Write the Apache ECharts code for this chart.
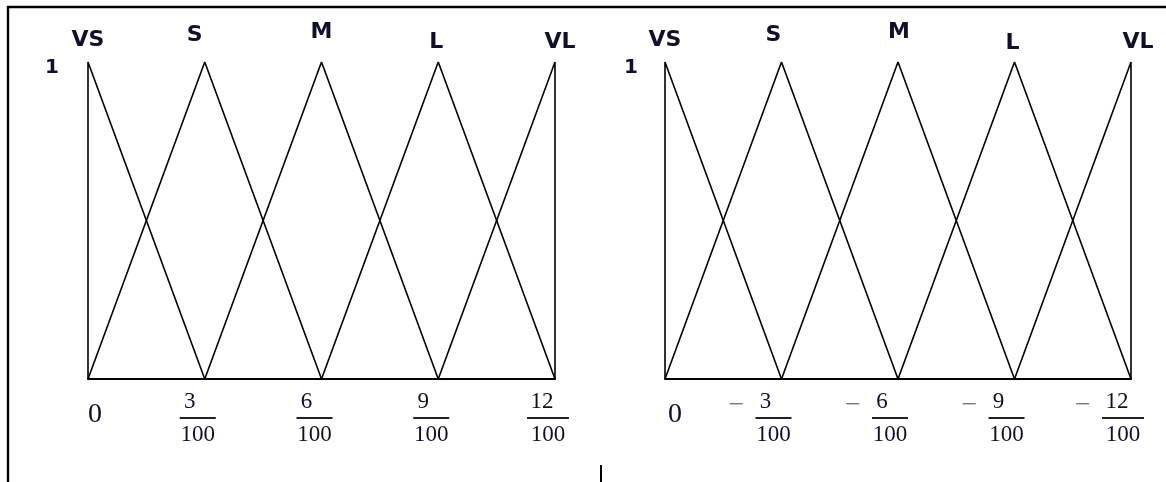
<!DOCTYPE html>
<html><head><meta charset="utf-8">
<script src="https://cdn.jsdelivr.net/npm/echarts@6/dist/echarts.min.js"></script>
<style>html,body{margin:0;padding:0;background:#fff}#c{width:1166px;height:482px}</style>
</head><body><div id="c"></div>
<script>
// ---- data ----
const setNames = ['VS', 'S', 'M', 'L', 'VL'];
const denominator = 100;
const tickNumerators = [0, 3, 6, 9, 12];           // x ticks: n / 100
const vsPoints = [[0, 0], [0, 1], [3, 0]];          // [numerator, membership]
const sPoints  = [[0, 0], [3, 1], [6, 0]];
const mPoints  = [[3, 0], [6, 1], [9, 0]];
const lPoints  = [[6, 0], [9, 1], [12, 0]];
const vlPoints = [[9, 0], [12, 1], [12, 0]];
const setPoints = [vsPoints, sPoints, mPoints, lPoints, vlPoints];
const yLabelValue = 1;

// ---- styles ----
const labelOffsets = [
  [[0, -22], [-10, -27], [0, -30], [-2, -20], [5, -20]],
  [[0, -22], [-8, -27], [1, -30], [-2, -19], [7, -20]]
];
const ink = '#10102a';
const serif = 'Liberation Serif';
const sans = 'DejaVu Sans';

const rich = {
  n1: { width: 20, fontFamily: serif, fontSize: 23, color: ink, lineHeight: 28 },
  n2: { width: 30, fontFamily: serif, fontSize: 23, color: ink, lineHeight: 28 },
  ns1: { width: 16 },
  ns2: { width: 12 },
  b1: { width: 36, height: 2, lineHeight: 4, backgroundColor: '#222', fontSize: 1 },
  b2: { width: 42, height: 2, lineHeight: 4, backgroundColor: '#222', fontSize: 1 },
  d1: { width: 36, fontFamily: serif, fontSize: 23, color: ink, lineHeight: 30 },
  d2: { width: 42, fontFamily: serif, fontSize: 23, color: ink, lineHeight: 30 },
  tr: { width: 14 },
  rtr: { width: 43 },
  m: { width: 27, align: 'left', fontFamily: serif, fontSize: 28, color: '#7a7a7a', lineHeight: 28, padding: [8, 0, 0, 0] },
  sp: { width: 27 },
  zsL: { width: 14 },
  zsR: { width: 20 },
  z: { fontFamily: serif, fontSize: 28, color: ink, lineHeight: 54 }
};

function tickLabel(v, neg) {
  const n = Math.round(Math.abs(v) * denominator);
  if (tickNumerators.indexOf(n) < 0) return '';
  if (n === 0) return neg ? '{zsR| }{z|0}' : '{zsL| }{z|0}';
  const w = String(n).length > 1 ? '2' : '1';
  if (!neg) {
    return '{n' + w + '|' + n + '}{ns' + w + '| }{tr| }\n{b' + w + '| }{tr| }\n{d' + w + '|' + denominator + '}{tr| }';
  }
  return '{m|\u2212}{n' + w + '|' + n + '}{ns' + w + '| }{rtr| }\n{sp| }{b' + w + '| }{rtr| }\n{sp| }{d' + w + '|' + denominator + '}{rtr| }';
}

const grids = [
  { left: 88, right: 611, top: 62, bottom: 103, outerBoundsMode: 'none', containLabel: false },
  { left: 665, right: 35, top: 62, bottom: 103, outerBoundsMode: 'none', containLabel: false }
];

const xAxes = [0, 1].map(g => ({
  type: 'value', gridIndex: g,
  min: g === 0 ? 0 : -0.12, max: g === 0 ? 0.12 : 0, interval: 0.03,
  inverse: g === 1,
  axisLine: { show: true, lineStyle: { color: '#000', width: 2 } },
  axisTick: { show: false }, splitLine: { show: false },
  axisLabel: {
    margin: 9, lineHeight: 4, fontSize: 4,
    formatter: v => tickLabel(v, g === 1), rich: rich
  }
}));

const yAxes = [0, 1].map(g => ({
  type: 'value', gridIndex: g, min: 0, max: 1, interval: 1,
  axisLine: { show: false }, axisTick: { show: false }, splitLine: { show: false },
  axisLabel: {
    margin: g === 0 ? 29 : 27,
    formatter: v => (v === yLabelValue ? '{one|' + yLabelValue + '}' : ''),
    rich: { one: { fontFamily: sans, fontWeight: 'bold', fontSize: 20, color: ink, padding: [12, 0, 0, 0] } }
  }
}));

const series = [];
[0, 1].forEach(g => {
  const sign = g === 0 ? 1 : -1;
  setPoints.forEach((pts, i) => {
    series.push({
      type: 'line', xAxisIndex: g, yAxisIndex: g,
      name: setNames[i], clip: false, silent: true,
      symbol: 'circle', symbolSize: 1,
      itemStyle: { color: 'rgba(0,0,0,0)', borderWidth: 0 },
      lineStyle: { color: '#000', width: 1.6 },
      emphasis: { disabled: true },
      data: pts.map(([x, y]) => {
        const item = { value: [sign * x / denominator, y] };
        item.label = y === 1 ? {
          show: true, position: 'inside', offset: labelOffsets[g][i],
          formatter: setNames[i], fontFamily: sans, fontWeight: 'bold',
          fontSize: 22, color: ink
        } : { show: false };
        return item;
      })
    });
  });
});

const chart = echarts.init(document.getElementById('c'), null, { renderer: 'canvas' });
chart.setOption({
  animation: false,
  backgroundColor: '#fff',
  grid: grids,
  xAxis: xAxes,
  yAxis: yAxes,
  series: series,
  graphic: [
    { type: 'line', shape: { x1: 8, y1: 6, x2: 8, y2: 482 }, style: { stroke: '#000', lineWidth: 2.4 } },
    { type: 'line', shape: { x1: 7, y1: 7, x2: 1166, y2: 7 }, style: { stroke: '#000', lineWidth: 2.4 } },
    { type: 'line', shape: { x1: 601, y1: 465, x2: 601, y2: 482 }, style: { stroke: '#000', lineWidth: 2 } }
  ]
});
</script>
</body></html>
